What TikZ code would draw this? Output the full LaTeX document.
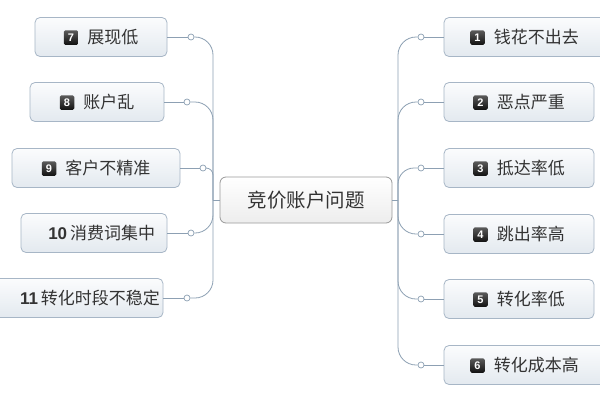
\documentclass[tikz,border=0pt]{standalone}
\usepackage{fontspec}
\newfontfamily\cjk{Noto Sans CJK SC}
\newfontfamily\numf{Liberation Sans}
\definecolor{boxline}{HTML}{A7B6C6}
\definecolor{boxtop}{HTML}{FBFCFD}
\definecolor{boxbot}{HTML}{E3E9EF}
\definecolor{conncol}{HTML}{8DA0B3}
\definecolor{txt}{HTML}{333333}
\definecolor{bdgtop}{HTML}{5A5A5A}
\definecolor{bdgbot}{HTML}{111111}
\tikzset{
  box/.style={draw=boxline, line width=0.8pt, rounded corners=5pt, top color=boxtop, bottom color=boxbot,
    minimum height=39pt, inner sep=0pt, text=txt, font=\cjk\fontsize{17}{19}\selectfont},
  centerbox/.style={draw=black!40, line width=0.8pt, rounded corners=6pt, top color=white, bottom color=black!7,
    minimum height=46pt, minimum width=172pt, inner sep=0pt, text=txt, font=\cjk\fontsize{19.5}{22}\selectfont},
  conn/.style={draw=conncol, line width=0.8pt},
  dot/.style={circle, draw=conncol, line width=0.7pt, fill=white, inner sep=0pt, minimum size=6pt},
  badge/.style={rounded corners=1.5pt, top color=bdgtop, bottom color=bdgbot, text=white,
    minimum size=14.5pt, inner sep=0pt, font=\numf\bfseries\fontsize{11}{11}\selectfont}
}
\newcommand\bdg[1]{\tikz[baseline={([yshift=-5.8pt]b.center)}]\node[badge](b){#1};\hspace{9pt}}
\newcommand\bnum[1]{{\numf\bfseries #1}}
\begin{document}
\begin{tikzpicture}[x=1pt,y=-1pt]
\useasboundingbox[fill=white] (0,0) rectangle (600,400);
% center
\node[centerbox] (c) at (306,200) {竞价账户问题};
\coordinate (tl) at (213,200);
\coordinate (tr) at (398,200);
% right boxes
\node[box, minimum width=161pt] (n1) at (524.5,37) {\bdg{1}钱花不出去};
\node[box, minimum width=150pt] (n2) at (519,102) {\bdg{2}恶点严重};
\node[box, minimum width=150pt] (n3) at (519,168) {\bdg{3}抵达率低};
\node[box, minimum width=150pt] (n4) at (519,234) {\bdg{4}跳出率高};
\node[box, minimum width=150pt] (n5) at (519,299) {\bdg{5}转化率低};
\node[box, minimum width=161pt] (n6) at (524.5,365) {\bdg{6}转化成本高};
% left boxes
\node[box, minimum width=132pt] (n7) at (101,37) {\bdg{7}展现低};
\node[box, minimum width=134pt] (n8) at (97,102) {\bdg{8}账户乱};
\node[box, minimum width=168pt] (n9) at (96,168) {\bdg{9}客户不精准};
\node[box, minimum width=146pt, inner xsep=12pt, text width=122pt, align=right] (n10) at (94,233) {\bnum{10}\,消费词集中};
\node[box, minimum width=168pt, inner xsep=3pt, text width=162pt, align=right] (n11) at (79,298) {\bnum{11}\,转化时段不稳定};
% dots
\node[dot] (c1) at (421,37) {};
\node[dot] (c2) at (421,102) {};
\node[dot] (c3) at (421,168) {};
\node[dot] (c4) at (421,234) {};
\node[dot] (c5) at (421,299) {};
\node[dot] (c6) at (421,365) {};
\node[dot] (c7) at (191,37) {};
\node[dot] (c8) at (187,102) {};
\node[dot] (c9) at (203,168) {};
\node[dot] (c10) at (191,233) {};
\node[dot] (c11) at (187,298) {};
% connectors
\draw[conn] (c.west) -- (tl);
\draw[conn] (c.east) -- (tr);
\foreach \i in {1,2,4,5,6} {\draw[conn, rounded corners=18pt] (tr) |- (c\i);}
\draw[conn, rounded corners=16pt] (tr) |- (c3);
\foreach \i in {7,8,10,11} {\draw[conn, rounded corners=18pt] (tl) |- (c\i);}
\draw[conn, rounded corners=7pt] (tl) |- (c9);
\foreach \i in {1,...,11} {\draw[conn] (c\i) -- (n\i);}
\end{tikzpicture}
\end{document}
